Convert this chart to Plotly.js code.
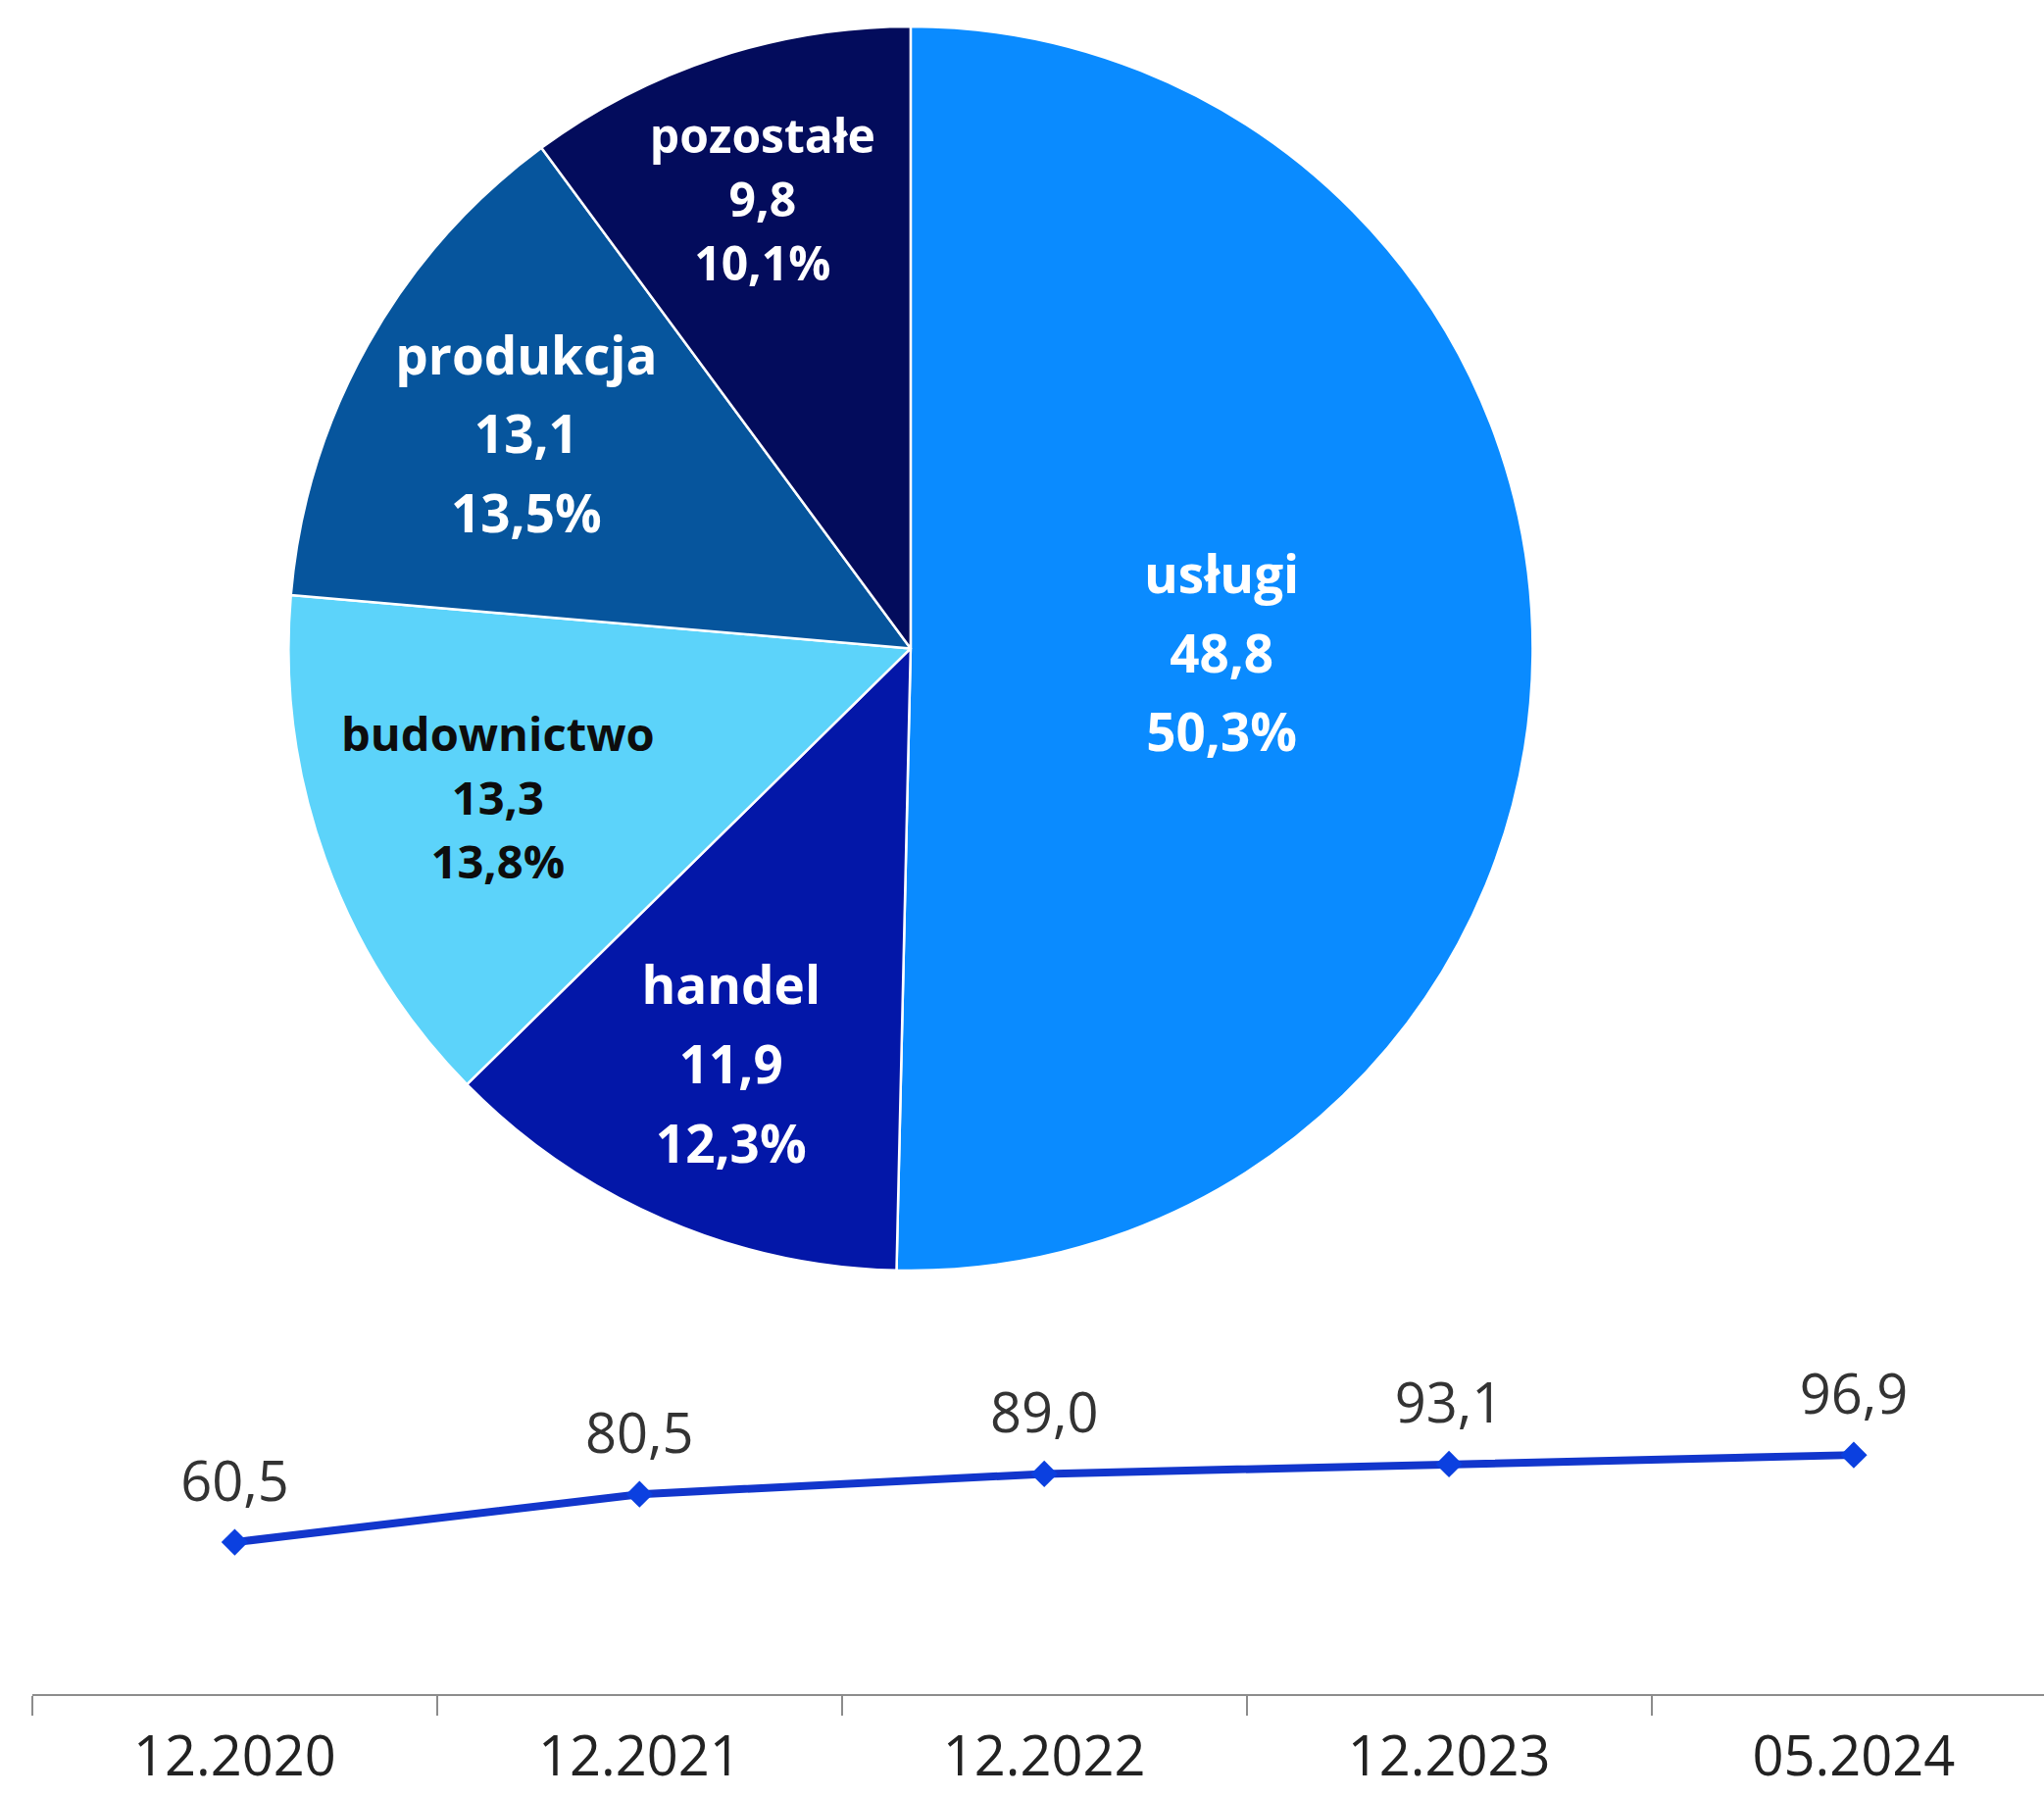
<!DOCTYPE html>
<html>
<head>
<meta charset="utf-8">
<script src="https://cdn.plot.ly/plotly-3.0.1.min.js"></script>
<style>
  html, body { margin: 0; padding: 0; background: #ffffff; }
  #chart { width: 2085px; height: 1833px; }
</style>
</head>
<body>
<div id="chart"></div>
<script>
// ---- data ----
const sectors = ["usługi", "handel", "budownictwo", "produkcja", "pozostałe"];
const sectorValues = [48.8, 11.9, 13.3, 13.1, 9.8];
const sectorShares = ["50,3%", "12,3%", "13,8%", "13,5%", "10,1%"];
const sectorColors = ["#0A8BFF", "#0317A8", "#5CD3FA", "#06559D", "#030C5C"];
const sectorTextColors = ["#ffffff", "#ffffff", "#0d0d0d", "#ffffff", "#ffffff"];

const periods = ["12.2020", "12.2021", "12.2022", "12.2023", "05.2024"];
const totals = [60.5, 80.5, 89.0, 93.1, 96.9];

// ---- traces ----
const S = "<span style='font-size:53px'>";
const pie = {
  type: "pie",
  labels: sectors,
  values: sectorValues,
  customdata: sectorShares,
  sort: false,
  direction: "clockwise",
  rotation: 0,
  marker: { colors: sectorColors, line: { color: "#ffffff", width: 2.5 } },
  texttemplate: S + "%{label}</span><br>" + S + "%{value:.1f}</span><br>" + S + "%{customdata}</span>",
  textposition: "inside",
  insidetextorientation: "horizontal",
  textfont: { family: "Open Sans", size: [62, 62, 56, 62, 55], weight: 700, color: sectorTextColors },
  hoverinfo: "none",
  showlegend: false,
  domain: { x: [0.1266, 0.7466], y: [0.25, 0.9844] }
};

const line = {
  type: "scatter",
  mode: "lines+markers",
  x: periods,
  y: totals,
  line: { color: "#1236CC", width: 8 },
  marker: { symbol: "diamond", size: 21, color: "#0B40E0" },
  hoverinfo: "none",
  showlegend: false,
  cliponaxis: false
};

const lineLabels = {
  type: "scatter",
  mode: "markers+text",
  x: periods,
  y: totals,
  marker: { size: 44, color: "rgba(0,0,0,0)" },
  texttemplate: "%{y:.1f}",
  textposition: "top center",
  textfont: { family: "Open Sans", size: 56, color: "#333333" },
  hoverinfo: "none",
  showlegend: false,
  cliponaxis: false
};

const layout = {
  width: 2085,
  height: 1833,
  margin: { l: 33, r: 0, t: 0, b: 105 },
  paper_bgcolor: "#ffffff",
  plot_bgcolor: "rgba(0,0,0,0)",
  separators: ", ",
  xaxis: {
    type: "category",
    categoryorder: "array",
    categoryarray: periods,
    range: [-0.5, 4.47],
    showgrid: false,
    zeroline: false,
    showline: true,
    linecolor: "#8C8C8C",
    linewidth: 2,
    ticks: "outside",
    tickson: "boundaries",
    ticklen: 20,
    tickwidth: 2,
    tickcolor: "#8C8C8C",
    ticklabelstandoff: 14,
    tickfont: { family: "Open Sans", size: 56, color: "#222222" },
    fixedrange: true
  },
  yaxis: {
    domain: [0, 0.1898],
    range: [-2.86, 131.3],
    visible: false,
    showgrid: false,
    zeroline: false,
    fixedrange: true
  }
};

Plotly.newPlot("chart", [pie, line, lineLabels], layout, { staticPlot: true, displayModeBar: false });
</script>
</body>
</html>
